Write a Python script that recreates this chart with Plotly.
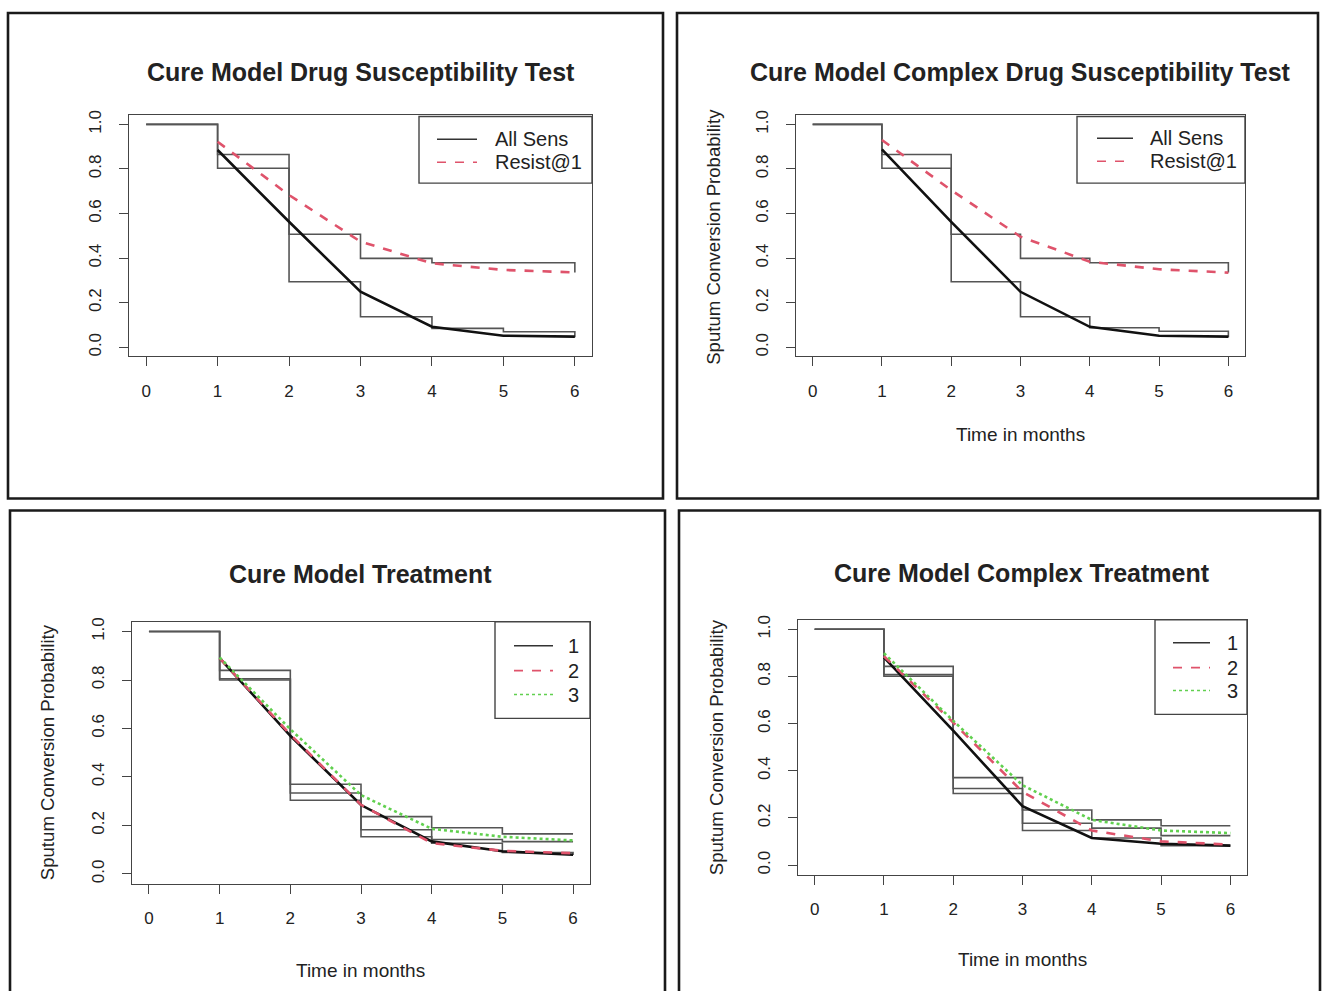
import plotly.graph_objects as go

# page offset of the figure inside the browser page (body margin removed below)
OFFX, OFFY = 0, 4
W, H = 1322, 991

# ---------------- data ----------------
TIME = [0, 1, 2, 3, 4, 5, 6]          # KM step times
FIT_TIME = [1, 2, 3, 4, 5, 6]         # fitted-curve evaluation times
X_TICKS = [0, 1, 2, 3, 4, 5, 6]
Y_TICKS = [0.0, 0.2, 0.4, 0.6, 0.8, 1.0]
Y_TICK_LABELS = ["0.0", "0.2", "0.4", "0.6", "0.8", "1.0"]

TITLES = ["Cure Model Drug Susceptibility Test",
          "Cure Model Complex Drug Susceptibility Test",
          "Cure Model Treatment",
          "Cure Model Complex Treatment"]
X_TITLE = "Time in months"
Y_TITLE = "Sputum Conversion Probability"

# Panel 1 : Drug Susceptibility Test
p1_km_sens = [1.0, 0.803, 0.294, 0.137, 0.085, 0.070, 0.045]
p1_km_resist = [1.0, 0.865, 0.507, 0.399, 0.379, 0.379, 0.335]
p1_fit_sens = [0.885, 0.563, 0.249, 0.092, 0.052, 0.048]
p1_fit_resist = [0.922, 0.683, 0.474, 0.377, 0.347, 0.336]

# Panel 2 : Complex Drug Susceptibility Test
p2_km_sens = [1.0, 0.803, 0.294, 0.137, 0.088, 0.072, 0.045]
p2_km_resist = [1.0, 0.865, 0.507, 0.399, 0.379, 0.379, 0.335]
p2_fit_sens = [0.888, 0.563, 0.249, 0.092, 0.052, 0.048]
p2_fit_resist = [0.930, 0.705, 0.496, 0.384, 0.350, 0.335]

# Panel 3 : Treatment (groups 1, 2, 3)
p3_km_g1 = [1.0, 0.800, 0.304, 0.153, 0.126, 0.088, 0.078]
p3_km_g2 = [1.0, 0.805, 0.334, 0.182, 0.142, 0.133, 0.133]
p3_km_g3 = [1.0, 0.840, 0.370, 0.236, 0.190, 0.165, 0.165]
p3_fit_g1 = [0.890, 0.570, 0.284, 0.134, 0.093, 0.079]
p3_fit_g2 = [0.890, 0.575, 0.285, 0.127, 0.095, 0.085]
p3_fit_g3 = [0.893, 0.597, 0.325, 0.186, 0.153, 0.138]

# Panel 4 : Complex Treatment (groups 1, 2, 3)
p4_km_g1 = [1.0, 0.801, 0.304, 0.147, 0.115, 0.083, 0.083]
p4_km_g2 = [1.0, 0.808, 0.325, 0.178, 0.157, 0.125, 0.125]
p4_km_g3 = [1.0, 0.843, 0.371, 0.234, 0.192, 0.167, 0.167]
p4_fit_g1 = [0.881, 0.570, 0.250, 0.115, 0.091, 0.083]
p4_fit_g2 = [0.886, 0.605, 0.311, 0.147, 0.101, 0.087]
p4_fit_g3 = [0.899, 0.612, 0.339, 0.192, 0.147, 0.136]

LEG_TWO = ["All Sens", "Resist@1"]
LEG_THREE = ["1", "2", "3"]

# ---------------- style ----------------
FONT = "Liberation Sans, Arial, sans-serif"
TXT = "#222222"
GRAY = "#555555"
BLACK = "#111111"
RED = "#DF536B"
GREEN = "#61D04F"
FIT_STYLES = [(BLACK, "solid"), (RED, "dash"), (GREEN, "dot")]


def pxx(x):
    return (x - OFFX) / W


def pxy(y):
    return 1 - (y - OFFY) / H


# plot-area boxes in page pixels: (left, top, right, bottom)
BOXES = [(129, 115, 592, 357), (796, 115, 1245, 357),
         (132, 624, 590, 887), (798, 622, 1247, 878)]
FRAMES = [(8, 12, 663, 500), (677, 12, 1318, 500),
          (10, 512, 665, 1010), (679, 512, 1320, 1010)]
TITLE_POS = [(361, 71), (1020, 71), (360, 576), (1022, 575)]
XTITLE_POS = [None, (1020, 436), (360, 974), (1022, 963)]
YTITLE_POS = [None, (714, 237), (47, 755), (716, 750)]
LEGENDS = [
    dict(box=(419, 116, 592, 183), lx=(437, 477), tx=493, ty=[139, 162], anchor="left"),
    dict(box=(1077, 116, 1245, 183), lx=(1097, 1133), tx=1148, ty=[138, 161], anchor="left"),
    dict(box=(495, 624, 590, 721), lx=(514, 553), tx=573, ty=[648, 673, 697], anchor="center"),
    dict(box=(1155, 622, 1247, 717), lx=(1173, 1210), tx=1232, ty=[645, 670, 693], anchor="center"),
]

panels = [
    dict(km=[p1_km_sens, p1_km_resist], fit=[p1_fit_sens, p1_fit_resist], leg=LEG_TWO),
    dict(km=[p2_km_sens, p2_km_resist], fit=[p2_fit_sens, p2_fit_resist], leg=LEG_TWO),
    dict(km=[p3_km_g1, p3_km_g2, p3_km_g3], fit=[p3_fit_g1, p3_fit_g2, p3_fit_g3], leg=LEG_THREE),
    dict(km=[p4_km_g1, p4_km_g2, p4_km_g3], fit=[p4_fit_g1, p4_fit_g2, p4_fit_g3], leg=LEG_THREE),
]

fig = go.Figure()
shapes = []
annotations = []

for i, p in enumerate(panels):
    n = i + 1
    xa = "x" if n == 1 else f"x{n}"
    ya = "y" if n == 1 else f"y{n}"
    for km, name in zip(p["km"], p["leg"]):
        fig.add_trace(go.Scatter(x=TIME, y=km, mode="lines", line_shape="hv",
                                 line=dict(color=GRAY, width=1.6), name=f"KM {name}",
                                 showlegend=False, xaxis=xa, yaxis=ya, hoverinfo="skip"))
    for k, (fit, name) in enumerate(zip(p["fit"], p["leg"])):
        col, dash = FIT_STYLES[k]
        fig.add_trace(go.Scatter(x=FIT_TIME, y=fit, mode="lines",
                                 line=dict(color=col, width=2.6, dash=dash), name=name,
                                 showlegend=False, xaxis=xa, yaxis=ya))

    l, t, r, b = BOXES[i]
    axis_common = dict(showline=True, mirror=True, linecolor="#444444", linewidth=1.4,
                       ticks="outside", ticklen=9, tickwidth=1.4, tickcolor="#444444",
                       showgrid=False, zeroline=False,
                       tickfont=dict(family=FONT, size=17, color=TXT))
    fig.layout[f"xaxis{n if n > 1 else ''}"] = dict(
        axis_common, domain=[pxx(l), pxx(r)], range=[-0.24, 6.24],
        tickvals=X_TICKS, ticktext=[str(v) for v in X_TICKS],
        anchor=ya, ticklabelstandoff=10)
    fig.layout[f"yaxis{n if n > 1 else ''}"] = dict(
        axis_common, domain=[pxy(b), pxy(t)], range=[-0.04, 1.04],
        tickvals=Y_TICKS, ticktext=Y_TICK_LABELS, tickangle=-90,
        anchor=xa, ticklabelstandoff=11)

    # outer frame
    fl, ft, fr, fb = FRAMES[i]
    shapes.append(dict(type="rect", xref="paper", yref="paper",
                       x0=pxx(fl), x1=pxx(fr), y0=pxy(fb), y1=pxy(ft),
                       line=dict(color="#1a1a1a", width=2.6)))
    # titles
    tx, ty = TITLE_POS[i]
    annotations.append(dict(text=f"<b>{TITLES[i]}</b>", x=pxx(tx), y=pxy(ty),
                            xref="paper", yref="paper", showarrow=False,
                            xanchor="center", yanchor="middle",
                            font=dict(family=FONT, size=25, color=TXT)))
    if XTITLE_POS[i]:
        ax_, ay_ = XTITLE_POS[i]
        annotations.append(dict(text=X_TITLE, x=pxx(ax_), y=pxy(ay_), xref="paper",
                                yref="paper", showarrow=False, xanchor="center",
                                yanchor="middle", font=dict(family=FONT, size=19, color=TXT)))
    if YTITLE_POS[i]:
        ax_, ay_ = YTITLE_POS[i]
        annotations.append(dict(text=Y_TITLE, x=pxx(ax_), y=pxy(ay_), xref="paper",
                                yref="paper", showarrow=False, textangle=-90,
                                xanchor="center", yanchor="middle",
                                font=dict(family=FONT, size=18.6, color=TXT)))
    # legend
    lg = LEGENDS[i]
    bl, bt, br, bb = lg["box"]
    shapes.append(dict(type="rect", xref="paper", yref="paper",
                       x0=pxx(bl), x1=pxx(br), y0=pxy(bb), y1=pxy(bt),
                       line=dict(color="#444444", width=1.4)))
    for k, (name, rowy) in enumerate(zip(p["leg"], lg["ty"])):
        col, dash = FIT_STYLES[k]
        shapes.append(dict(type="line", xref="paper", yref="paper",
                           x0=pxx(lg["lx"][0]), x1=pxx(lg["lx"][1]),
                           y0=pxy(rowy), y1=pxy(rowy),
                           line=dict(color=col if k else "#333333", width=1.6, dash=dash)))
        annotations.append(dict(text=name, x=pxx(lg["tx"]), y=pxy(rowy), xref="paper",
                                yref="paper", showarrow=False,
                                xanchor=lg["anchor"], yanchor="middle",
                                font=dict(family=FONT, size=20, color=TXT)))

fig.update_layout(width=W, height=H, margin=dict(l=0, r=0, t=0, b=0),
                  paper_bgcolor="white", plot_bgcolor="white",
                  shapes=shapes, annotations=annotations, showlegend=False)

fig.write_html("out.html",
               config={"displayModeBar": False},
               post_script="document.body.style.margin='0px';"
                           "document.documentElement.style.overflow='hidden';")
